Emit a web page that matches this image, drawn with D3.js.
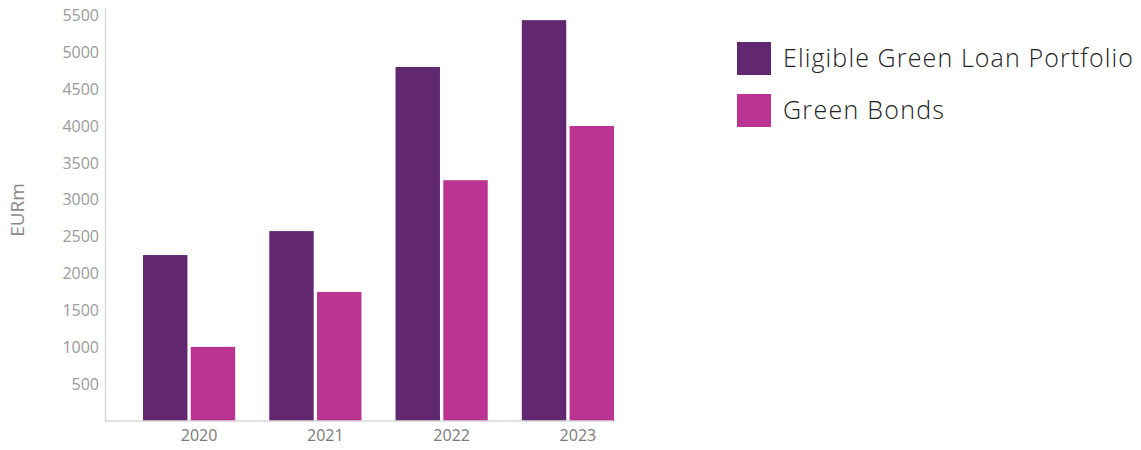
<!DOCTYPE html>
<html lang="en">

<head>
    <meta charset="UTF-8">
    <title>Green Loans and Bonds</title>
    <script src="https://d3js.org/d3.v7.min.js"></script>
    <style>
        body { margin: 0; background: #fff; }
        text { font-family: "Open Sans", "Noto Sans", sans-serif; }
    </style>
</head>

<body>
    <script>
        // data
        var years = ["2020", "2021", "2022", "2023"];
        var seriesNames = ["Eligible Green Loan Portfolio", "Green Bonds"];
        var loanPortfolio = [2250, 2575, 4800, 5435];
        var greenBonds = [1005, 1750, 3265, 4000];
        var yTicks = [500, 1000, 1500, 2000, 2500, 3000, 3500, 4000, 4500, 5000, 5500];
        var colors = ["#612771", "#bc3491"];

        var rows = years.map(function (yr, i) {
            return { year: yr, values: [loanPortfolio[i], greenBonds[i]] };
        });

        var width = 1141, height = 450;
        var plotLeft = 105, plotRight = 613, plotTop = 8, plotBottom = 421;

        var svg = d3.select("body")
            .append("svg")
            .attr("width", width)
            .attr("height", height);

        // scales
        var x = d3.scaleBand()
            .domain(years)
            .range([143, 614])
            .paddingInner(0.27)
            .paddingOuter(0);

        var xSub = d3.scaleBand()
            .domain([0, 1])
            .range([0, x.bandwidth()])
            .paddingInner(0.07);

        var y = d3.scaleLinear()
            .domain([0, 5600])
            .range([plotBottom, plotTop]);

        // bars
        var groups = svg.selectAll(".group")
            .data(rows)
            .enter().append("g")
            .attr("class", "group")
            .attr("transform", d => "translate(" + x(d.year) + ",0)");

        groups.selectAll("rect")
            .data(d => d.values)
            .enter().append("rect")
            .attr("x", (d, i) => xSub(i))
            .attr("width", xSub.bandwidth())
            .attr("y", d => y(d))
            .attr("height", d => y(0) - y(d))
            .attr("fill", (d, i) => colors[i]);

        // y axis
        var yAxis = svg.append("g")
            .attr("transform", "translate(" + plotLeft + ",0)")
            .call(d3.axisLeft(y).tickValues(yTicks).tickFormat(d3.format("d")).tickSize(0).tickPadding(6));
        yAxis.select(".domain").attr("stroke", "#d9d9d9").attr("stroke-width", 1.5);
        yAxis.selectAll("text")
            .attr("fill", "#9a9a9a")
            .style("font-size", "16px");

        // x axis
        var xAxis = svg.append("g")
            .attr("transform", "translate(0," + plotBottom + ")")
            .call(d3.axisBottom(x).tickSize(0).tickPadding(9));
        xAxis.select(".domain")
            .attr("d", "M" + plotLeft + ",0H" + plotRight)
            .attr("stroke", "#d9d9d9").attr("stroke-width", 1.5);
        xAxis.selectAll("text")
            .attr("dx", 10)
            .attr("fill", "#7a7a7a")
            .style("font-size", "16px");

        // y label
        svg.append("text")
            .attr("transform", "translate(24,210) rotate(-90)")
            .attr("text-anchor", "middle")
            .attr("fill", "#8a8a8a")
            .style("font-size", "19px")
            .text("EURm");

        // legend
        var legend = svg.selectAll(".legend")
            .data(seriesNames)
            .enter().append("g")
            .attr("class", "legend")
            .attr("transform", (d, i) => "translate(737," + (42 + i * 52) + ")");

        legend.append("rect")
            .attr("width", 34)
            .attr("height", 33)
            .attr("fill", (d, i) => colors[i]);

        legend.append("text")
            .attr("x", 46)
            .attr("y", 16)
            .attr("dy", "0.35em")
            .attr("fill", "#222")
            .style("font-size", "25px")
            .style("font-weight", 300)
            .attr("textLength", (d, i) => i === 0 ? 350 : 161)
            .attr("lengthAdjust", "spacing")
            .text(d => d);
    </script>
</body>

</html>
